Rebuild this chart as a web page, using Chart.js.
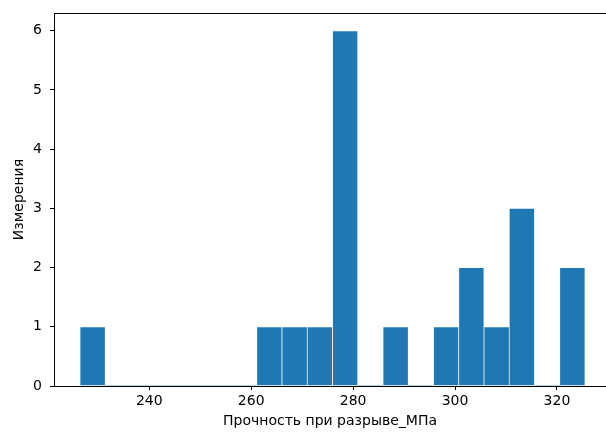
<!DOCTYPE html>
<html>
<head>
<meta charset="utf-8">
<script src="https://cdn.jsdelivr.net/npm/chart.js@4/dist/chart.umd.min.js"></script>
<style>
  html, body { margin: 0; padding: 0; background: #fff; overflow: hidden; }
  #c { display: block; }
</style>
</head>
<body>
<canvas id="c" width="606" height="434"></canvas>
<script>
// Histogram bins (centres, MPa) and counts
const binCenters = [228.88, 233.83, 238.79, 243.74, 248.70, 253.65, 258.61, 263.56, 268.52, 273.47,
                    278.43, 283.38, 288.34, 293.29, 298.25, 303.20, 308.16, 313.11, 318.07, 323.02];
const counts     = [1, 0, 0, 0, 0, 0, 0, 1, 1, 1,
                    6, 0, 1, 0, 1, 2, 1, 3, 0, 2];
const xTicks = [240, 260, 280, 300, 320];
const yTicks = [0, 1, 2, 3, 4, 5, 6];
const xLabel = 'Прочность при разрыве_МПа';
const yLabel = 'Измерения';

const FONT = { family: 'DejaVu Sans', size: 14 };

const framePlugin = {
  id: 'frame',
  afterDraw(chart) {
    const { ctx, chartArea: a } = chart;
    ctx.save();
    ctx.strokeStyle = '#000';
    ctx.lineWidth = 1;
    ctx.beginPath();
    ctx.moveTo(a.left, a.top + 0.5);
    ctx.lineTo(a.right, a.top + 0.5);
    ctx.stroke();
    ctx.restore();
  }
};

new Chart(document.getElementById('c'), {
  type: 'bar',
  data: {
    datasets: [{
      data: binCenters.map((x, i) => ({ x: x, y: counts[i] })),
      backgroundColor: '#1f77b4',
      borderColor: '#ffffff',
      borderWidth: ctx => (ctx.raw && ctx.raw.y > 0 ? 0.7 : 0),
      borderSkipped: false,
      barPercentage: 1,
      categoryPercentage: 1
    }]
  },
  options: {
    responsive: false,
    animation: false,
    events: [],
    layout: { padding: { top: 13, right: 0, bottom: 0, left: 0 } },
    plugins: { legend: { display: false }, tooltip: { enabled: false } },
    scales: {
      x: {
        type: 'linear',
        min: 221.3,
        max: 329.62,
        offset: false,
        afterBuildTicks: s => { s.ticks = xTicks.map(v => ({ value: v })); },
        afterFit: s => { s.height = 48; s.paddingLeft = 0; s.paddingRight = 0; },
        grid: { display: true, offset: false, drawOnChartArea: false, drawTicks: true, tickLength: 4, tickColor: '#000', tickWidth: 1 },
        border: { display: true, color: '#000', width: 1 },
        ticks: { color: '#000', font: FONT, padding: 3, maxRotation: 0 },
        title: { display: true, text: xLabel, color: '#000', font: FONT, padding: { top: 0, bottom: 4 } }
      },
      y: {
        type: 'linear',
        min: 0,
        max: 6.3,
        afterBuildTicks: s => { s.ticks = yTicks.map(v => ({ value: v })); },
        afterFit: s => { s.width = 54; s.paddingTop = 0; s.paddingBottom = 0; },
        grid: { display: true, offset: false, drawOnChartArea: false, drawTicks: true, tickLength: 4, tickColor: '#000', tickWidth: 1 },
        border: { display: true, color: '#000', width: 1 },
        ticks: { color: '#000', font: FONT, padding: 8 },
        title: { display: true, text: yLabel, color: '#000', font: FONT, padding: { top: 11, bottom: 0 } }
      }
    }
  },
  plugins: [framePlugin]
});
</script>
</body>
</html>
